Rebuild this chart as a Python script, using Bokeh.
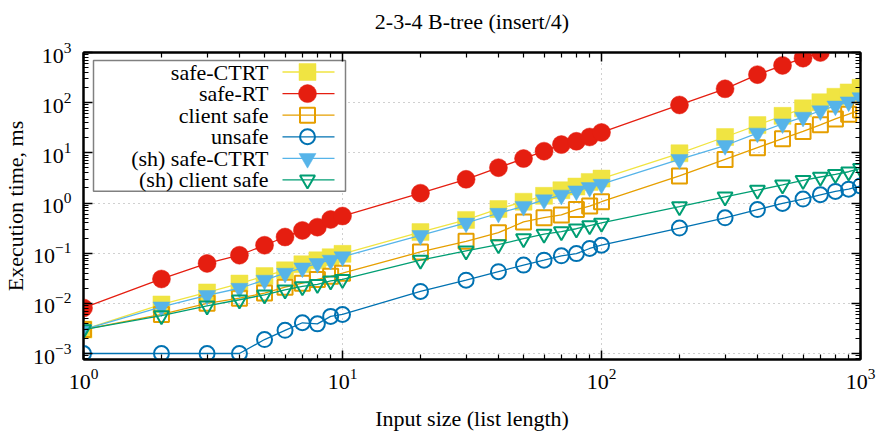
import numpy as np
from bokeh.plotting import figure
from bokeh.models import Range1d, FixedTicker, LogAxis, LogTickFormatter, CustomJSTickFormatter
from bokeh.core.properties import value
from bokeh.embed import file_html
from bokeh.resources import INLINE

# ---------------- data ----------------
sizes = [1, 2, 3, 4, 5, 6, 7, 8, 9, 10, 20, 30, 40, 50, 60, 70, 80, 90, 100,
         200, 300, 400, 500, 600, 700, 800, 900, 1000]
sizes_rt = [1, 2, 3, 4, 5, 6, 7, 8, 9, 10, 20, 30, 40, 50, 60, 70, 80, 90, 100,
            200, 300, 400, 500, 600, 700]

safe_ctrt = [0.0030, 0.0095, 0.0165, 0.0248, 0.035, 0.0455, 0.060, 0.072, 0.083, 0.097,
             0.263, 0.46, 0.76, 1.06, 1.39, 1.8, 2.13, 2.63, 3.07,
             9.8, 20.7, 35.7, 54.6, 77, 102, 131, 160, 198]
safe_rt = [0.0081, 0.0306, 0.0625, 0.091, 0.144, 0.21, 0.284, 0.33, 0.47, 0.55,
           1.57, 2.97, 5.06, 7.7, 10.8, 14.6, 17.0, 20.7, 25.5,
           90, 189, 362, 553, 771, 1000]
client_safe = [0.0030, 0.0060, 0.0100, 0.0127, 0.016, 0.021, 0.0252, 0.030, 0.0346, 0.040,
               0.106, 0.172, 0.256, 0.42, 0.51, 0.58, 0.74, 0.87, 1.06,
               3.46, 7.4, 12.7, 19.2, 26.7, 36.2, 47.5, 58.9, 71.6]
unsafe = [0.001, 0.001, 0.001, 0.001, 0.0019, 0.0029, 0.0041, 0.0039, 0.0055, 0.006,
          0.0173, 0.029, 0.0428, 0.0578, 0.0726, 0.0887, 0.098, 0.124, 0.144,
          0.316, 0.506, 0.74, 0.98, 1.2, 1.46, 1.7, 1.89, 2.19]
sh_safe_ctrt = [0.0030, 0.0085, 0.0144, 0.020, 0.029, 0.040, 0.051, 0.0625, 0.0726, 0.085,
                0.226, 0.40, 0.625, 0.86, 1.16, 1.44, 1.75, 2.04, 2.37,
                7.4, 14.0, 24.8, 37.9, 51.4, 69, 86, 104, 126]
sh_client_safe = [0.0030, 0.0057, 0.0089, 0.0118, 0.0148, 0.0186, 0.0217, 0.024, 0.028, 0.030,
                  0.0726, 0.111, 0.148, 0.195, 0.24, 0.27, 0.307, 0.356, 0.40,
                  0.845, 1.33, 1.8, 2.3, 2.84, 3.3, 3.73, 4.2, 4.9]

series_names = ["safe-CTRT", "safe-RT", "client safe", "unsafe",
                "(sh) safe-CTRT", "(sh) client safe"]

title_text = "2-3-4 B-tree (insert/4)"
x_label = "Input size (list length)"
y_label = "Execution time, ms"

# ---------------- layout / style ----------------
X_LO, X_HI = 1, 1000
Y_LO, Y_HI = 7.6e-4, 1000
FONT = "Liberation Serif"
FS = "22px"

W, H = 876, 433
BL, BR, BT, BB = 83, 16, 52, 71
FW, FH = W - BL - BR, H - BT - BB

styles = [
    dict(color="#f0e442", marker="square", filled=True, size=17),
    dict(color="#e51e10", marker="circle", filled=True, size=18),
    dict(color="#e69f00", marker="square", filled=False, size=15),
    dict(color="#0072b2", marker="circle", filled=False, size=15),
    dict(color="#56b4e9", marker="inverted_triangle", filled=True, size=17),
    dict(color="#009e73", marker="inverted_triangle", filled=False, size=15),
]
xs_list = [sizes, sizes_rt, sizes, sizes, sizes, sizes]
ys_list = [safe_ctrt, safe_rt, client_safe, unsafe, sh_safe_ctrt, sh_client_safe]

p = figure(width=W, height=H, x_axis_type="log", y_axis_type="log",
           x_range=Range1d(X_LO, X_HI), y_range=Range1d(Y_LO, Y_HI),
           output_backend="svg", toolbar_location=None,
           min_border_left=BL, min_border_right=BR, min_border_top=BT,
           min_border_bottom=BB)

p.outline_line_color = "black"
p.outline_line_width = 2
p.background_fill_color = "white"
p.border_fill_color = "white"

x_dec = [10.0 ** k for k in range(0, 4)]
x_min = [m * 10.0 ** k for k in range(0, 3) for m in range(2, 10)]
y_dec = [10.0 ** k for k in range(-3, 4)]
y_min = [m * 10.0 ** k for k in range(-4, 3) for m in range(2, 10)]


def style_axis(ax, ticks, minors, labels):
    ax.ticker = FixedTicker(ticks=ticks, minor_ticks=minors)
    ax.axis_line_color = "black"
    ax.axis_line_width = 2
    ax.major_tick_in = 9
    ax.major_tick_out = 0
    ax.minor_tick_in = 5
    ax.minor_tick_out = 0
    ax.major_tick_line_color = "black"
    ax.major_tick_line_width = 1.5
    ax.minor_tick_line_color = "black"
    ax.minor_tick_line_width = 1.2
    ax.axis_label_text_font = FONT
    ax.axis_label_text_font_size = FS
    ax.axis_label_text_font_style = "normal"
    ax.axis_label_text_color = "black"
    if labels:
        ax.formatter = LogTickFormatter()
        ax.major_label_text_font = FONT
        ax.major_label_text_font_size = FS
        ax.major_label_text_color = "black"
    else:
        ax.formatter = CustomJSTickFormatter(code="return ''")
        ax.major_label_text_font_size = "1px"
        ax.major_label_standoff = 0


style_axis(p.xaxis[0], x_dec, x_min, True)
style_axis(p.yaxis[0], y_dec, y_min, True)
p.xaxis[0].axis_label = x_label
p.yaxis[0].axis_label = y_label
p.xaxis[0].major_label_standoff = 9
p.xaxis[0].axis_label_standoff = 14
p.yaxis[0].major_label_standoff = 12
p.yaxis[0].axis_label_standoff = 2

# mirror axes (ticks only); the top one carries the chart title as its label
top_ax = LogAxis()
style_axis(top_ax, x_dec, x_min, False)
top_ax.axis_label = title_text
top_ax.axis_label_standoff = 19
right_ax = LogAxis()
style_axis(right_ax, y_dec, y_min, False)
p.add_layout(top_ax, "above")
p.add_layout(right_ax, "right")

for g in (p.xgrid[0], p.ygrid[0]):
    g.grid_line_color = "#a0a0a0"
    g.grid_line_dash = "1 4"
    g.grid_line_width = 1
p.xgrid[0].ticker = FixedTicker(ticks=x_dec)
p.ygrid[0].ticker = FixedTicker(ticks=y_dec)


def draw_marks(xs, ys, st):
    if st["filled"]:
        p.scatter(xs, ys, marker=st["marker"], size=st["size"],
                  fill_color=st["color"], line_color=st["color"], line_width=0.5)
    else:
        p.scatter(xs, ys, marker=st["marker"], size=st["size"],
                  fill_color=None, line_color=st["color"], line_width=2)


for xs, ys, st in zip(xs_list, ys_list, styles):
    p.line(xs, ys, line_color=st["color"], line_width=1.3)
    draw_marks(xs, ys, st)

# ---------------- legend (gnuplot-style: text left, sample right) ----------------
lx0, lx1 = np.log10(X_LO), np.log10(X_HI)
ly0, ly1 = np.log10(Y_LO), np.log10(Y_HI)


def fx(px):
    return 10 ** (lx0 + px / FW * (lx1 - lx0))


def fy(py):
    return 10 ** (ly1 - py / FH * (ly1 - ly0))


LEG_L, LEG_R, LEG_T, LEG_B = 10, 262, 8, 140
TEXT_X, LINE_X0, LINE_X1, MARK_X = 185, 199, 251, 224
ROW0, ROW_STEP = 19.7, 21.8

p.quad(left=[fx(LEG_L)], right=[fx(LEG_R)], top=[fy(LEG_T)], bottom=[fy(LEG_B)],
       fill_color="white", line_color="#808080", line_width=1.5)

for i, (name, st) in enumerate(zip(series_names, styles)):
    yy = fy(ROW0 + i * ROW_STEP)
    p.text(x=[fx(TEXT_X)], y=[yy], text=[name], text_font=value(FONT),
           text_font_size=value(FS), text_align="right", text_baseline="middle",
           text_color="black")
    p.line([fx(LINE_X0), fx(LINE_X1)], [yy, yy], line_color=st["color"], line_width=1.3)
    draw_marks([fx(MARK_X)], [yy], st)

open("out.html", "w").write(file_html(p, INLINE))
